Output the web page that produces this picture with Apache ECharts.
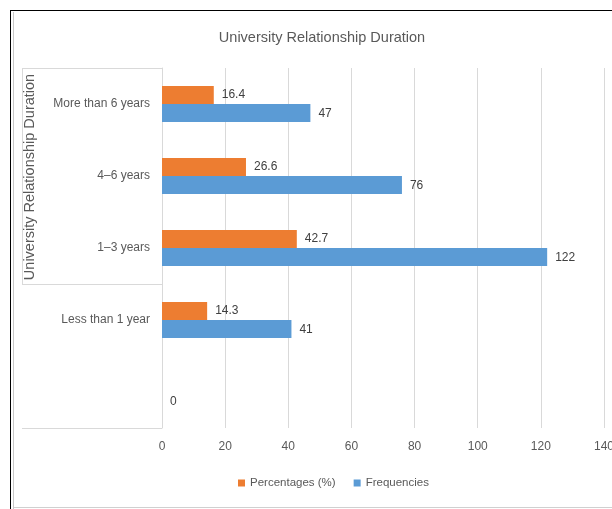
<!DOCTYPE html>
<html><head><meta charset="utf-8">
<script src="https://cdn.jsdelivr.net/npm/echarts@6/dist/echarts.min.js"></script>
<style>html,body{margin:0;padding:0;background:#fff}#c{width:612px;height:509px}</style>
</head><body><div id="c"></div>
<script>
const categories = ["", "Less than 1 year", "1–3 years", "4–6 years", "More than 6 years"];
const percentages = [null, 14.3, 42.7, 26.6, 16.4];
const frequencies = [0, 41, 122, 76, 47];
const xTicks = [0, 20, 40, 60, 80, 100, 120, 140];

const FONT = '"Liberation Sans", Arial, sans-serif';
const chart = echarts.init(document.getElementById('c'), null, {renderer: 'canvas'});
const lineStyle = {stroke: '#d9d9d9', lineWidth: 1};
chart.setOption({
  animation: false,
  textStyle: {fontFamily: FONT},
  title: {
    text: 'University Relationship Duration', left: 317, top: 25, textAlign: 'center',
    textStyle: {fontFamily: FONT, fontSize: 14.5, fontWeight: 'normal', color: '#595959'}
  },
  legend: {
    data: ['Percentages (%)', 'Frequencies'],
    left: 233, top: 472, icon: 'rect', itemWidth: 7, itemHeight: 7, itemGap: 18,
    textStyle: {fontFamily: FONT, fontSize: 11.5, color: '#595959'}
  },
  grid: {left: 162, right: 8, top: 68, bottom: 81, containLabel: false, outerBoundsMode: 'none'},
  xAxis: {
    type: 'value', min: xTicks[0], max: xTicks[xTicks.length - 1], interval: 20,
    axisLine: {show: false}, axisTick: {show: false},
    splitLine: {lineStyle: {color: '#d9d9d9'}},
    axisLabel: {fontFamily: FONT, fontSize: 12, color: '#595959', margin: 13}
  },
  yAxis: {
    type: 'category', data: categories,
    axisLine: {lineStyle: {color: '#d9d9d9'}}, axisTick: {show: false},
    axisLabel: {fontFamily: FONT, fontSize: 12, color: '#595959', margin: 12}
  },
  series: [
    {name: 'Percentages (%)', type: 'bar', data: percentages, barWidth: 18, barGap: '0%',
     itemStyle: {color: '#ED7D31'},
     label: {show: true, position: 'right', distance: 8, fontFamily: FONT, fontSize: 12, color: '#404040'}},
    {name: 'Frequencies', type: 'bar', data: frequencies, barWidth: 18, barGap: '0%',
     itemStyle: {color: '#5B9BD5'},
     label: {show: true, position: 'right', distance: 8, fontFamily: FONT, fontSize: 12, color: '#404040', offset: [0, 1]}}
  ],
  graphic: [
    {type: 'line', shape: {x1: 22, y1: 68.5, x2: 162, y2: 68.5}, style: lineStyle, silent: true},
    {type: 'line', shape: {x1: 22.5, y1: 68, x2: 22.5, y2: 284}, style: lineStyle, silent: true},
    {type: 'line', shape: {x1: 22, y1: 284.5, x2: 162, y2: 284.5}, style: lineStyle, silent: true},
    {type: 'line', shape: {x1: 22, y1: 428.5, x2: 162, y2: 428.5}, style: lineStyle, silent: true},
    {type: 'line', shape: {x1: 10, y1: 10.5, x2: 612, y2: 10.5}, style: {stroke: '#000', lineWidth: 1}, silent: true},
    {type: 'line', shape: {x1: 10.5, y1: 10, x2: 10.5, y2: 509}, style: {stroke: '#000', lineWidth: 1}, silent: true},
    {type: 'line', shape: {x1: 13.5, y1: 12, x2: 13.5, y2: 509}, style: {stroke: '#c8c8c8', lineWidth: 1}, silent: true},
    {type: 'line', shape: {x1: 14, y1: 507.5, x2: 612, y2: 507.5}, style: {stroke: '#d0d0d0', lineWidth: 1}, silent: true},
    {type: 'text', rotation: Math.PI / 2, x: 30, y: 177,
     style: {text: 'University Relationship Duration', fontFamily: FONT, fontSize: 14.5, fill: '#595959',
             textAlign: 'center', textVerticalAlign: 'middle'}, silent: true}
  ]
});
</script></body></html>
